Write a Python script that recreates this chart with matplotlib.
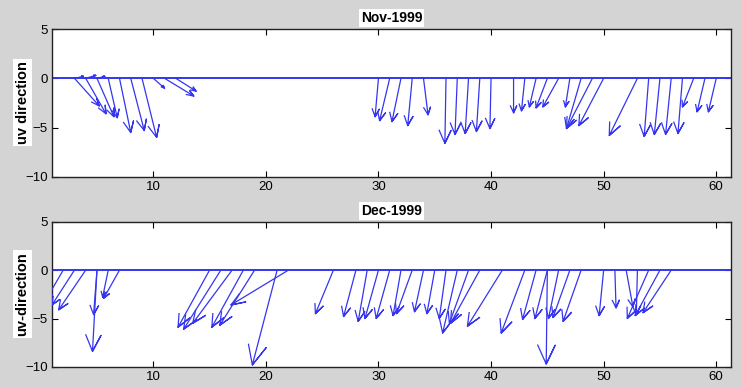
import numpy as np
import matplotlib.pyplot as plt

plt.rcParams['font.family'] = ['Liberation Sans', 'DejaVu Sans']

# Nov-1999: start position along the record and (u, v) components
nov_x = [3, 4, 5, 3, 4, 5, 6, 7, 8, 9, 10, 11, 12,
         30, 31, 32, 33, 34, 36, 37, 38, 39, 40,
         42, 43, 44, 45, 46, 47, 48, 49, 50,
         53, 54, 55, 56, 57, 58, 59, 60]
nov_u = [0.8, 0.9, 0.7, 2.2, 1.8, 1.5, 0.8, 1.0, 1.2, 1.3, 1.0, 2.6, 1.8,
         -0.3, -0.9, -0.8, -0.4, 0.4, -0.1, -0.2, -0.3, -0.3, -0.1,
         0.0, -0.3, -0.6, -1.0, -1.4, -0.4, -1.3, -2.3, -2.2,
         -2.5, -0.4, -0.5, -0.5, -0.4, -1.0, -0.7, -0.7]
nov_v = [0.2, 0.3, 0.2, -2.8, -3.6, -3.9, -4.0, -5.5, -5.3, -6.0, -1.0, -1.8, -1.3,
         -3.9, -4.3, -4.4, -4.8, -3.7, -6.6, -5.7, -5.6, -5.4, -5.1,
         -3.5, -3.3, -2.9, -3.0, -2.9, -2.9, -5.1, -5.1, -4.8,
         -5.8, -5.9, -5.7, -5.7, -5.6, -2.9, -3.4, -3.4]

# Dec-1999
dec_x = [1, 2, 3, 4, 5, 5, 6, 7, 15, 16, 17, 18, 19, 21, 22,
         26, 28, 29, 30, 31, 32, 33, 34, 35, 36, 37, 38, 39, 41,
         43, 44, 45, 45, 46, 47, 48, 50, 51, 52, 53, 54, 55, 56]
dec_u = [-1.0, -1.5, -2.0, -2.4, -0.3, -0.4, -0.5, -1.4, -2.8, -3.3, -3.5, -2.8, -3.1, -2.2, -5.1,
         -1.6, -1.1, -0.8, -1.2, -1.2, -0.7, -1.4, -0.8, -0.7, -0.6, -1.3, -1.7, -2.6, -3.1,
         -2.1, -1.2, -1.1, -0.1, -0.9, -1.5, -1.6, -0.4, 0.1, 0.6, -0.1, -1.9, -2.2, -2.5]
dec_v = [-2.0, -3.0, -3.6, -4.1, -4.6, -8.4, -2.8, -2.9, -5.9, -6.1, -5.5, -5.9, -5.7, -9.8, -3.6,
         -4.5, -4.8, -5.3, -5.0, -5.0, -4.7, -4.5, -4.3, -4.5, -5.0, -6.5, -5.5, -5.5, -5.8,
         -6.5, -5.1, -5.0, -9.7, -5.0, -4.9, -5.3, -4.7, -3.9, -3.8, -4.6, -5.0, -4.7, -4.4]

titles = ['Nov-1999', 'Dec-1999']
ylabels = ['uv direction', 'uv-direction']
xticks = [10, 20, 30, 40, 50, 60]
yticks = [-10, -5, 0, 5]

arrow_col = '#3535f0'
# matlab feather arrow template (shaft + two barbs)
tmpl = np.array([0, 1, .8, 1, .8]) + 1j * np.array([0, 0, .08, 0, -.08])


def feather(ax, x, u, v):
    ax.axhline(0, color=arrow_col, lw=1.4, zorder=2)
    z = np.asarray(u) + 1j * np.asarray(v)
    for xi, zi in zip(x, z):
        pts = xi + zi * tmpl
        ax.plot(pts.real, pts.imag, color=arrow_col, lw=0.9, zorder=3)


fig = plt.figure(figsize=(7.42, 3.87), dpi=100, facecolor='#d4d4d4')
ax1 = fig.add_axes([0.070, 0.543, 0.915, 0.382])
ax2 = fig.add_axes([0.070, 0.052, 0.915, 0.375])

for ax, (x, u, v), title, ylab in zip(
        [ax1, ax2],
        [(nov_x, nov_u, nov_v), (dec_x, dec_u, dec_v)],
        titles, ylabels):
    feather(ax, x, u, v)
    ax.set_xlim(1, 61.3)
    ax.set_ylim(-10, 5)
    ax.set_xticks(xticks)
    ax.set_yticks(yticks)
    ax.tick_params(direction='in', top=True, right=True, length=4,
                   labelsize=9.5, width=0.8, pad=3)
    for lab in ax.get_xticklabels() + ax.get_yticklabels():
        lab.set_family(['Liberation Sans Narrow', 'Liberation Sans'])
    for s in ax.spines.values():
        s.set_linewidth(1.0)
        s.set_color('#222222')
    ax.set_title(title, fontsize=10, fontweight='bold', pad=5,
                 bbox=dict(facecolor='white', edgecolor='none', pad=1.5))
    ax.set_ylabel(ylab, fontsize=10.5, fontweight='bold',
                  bbox=dict(facecolor='white', edgecolor='none', pad=1.5))
    ax.yaxis.set_label_coords(-0.033, 0.5)

fig.savefig('out.png', dpi=100, facecolor=fig.get_facecolor())
